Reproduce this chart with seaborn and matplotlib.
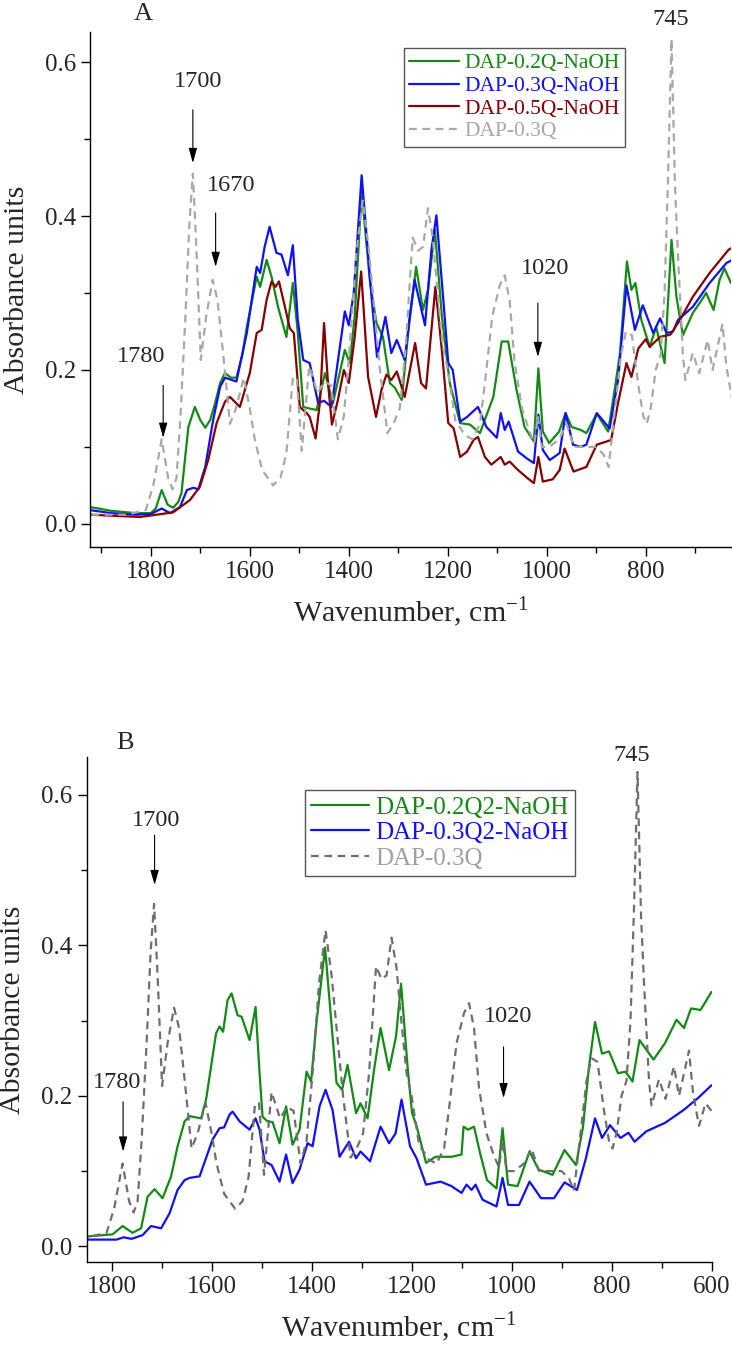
import numpy as np
import pandas as pd
import matplotlib
matplotlib.use('Agg')
import matplotlib.pyplot as plt
import seaborn as sns
from matplotlib.ticker import MultipleLocator, FormatStrFormatter

# ---- data (wavenumber, absorbance) ----
# reference sample DAP-0.3Q (same spectrum in both panels)
ref_wn = [1922, 1850, 1810, 1795, 1778, 1765, 1756, 1748, 1740, 1730, 1722, 1715, 1708, 1699,
          1688, 1675, 1665, 1654, 1640, 1628, 1612, 1600, 1590, 1575, 1553, 1538, 1526, 1513,
          1505, 1495, 1480, 1463, 1449, 1436, 1422, 1410, 1398, 1385, 1372, 1360, 1350, 1337,
          1322, 1310, 1297, 1285, 1271, 1260, 1250, 1240, 1230, 1222, 1210, 1200, 1185, 1165,
          1150, 1135, 1125, 1110, 1095, 1085, 1075, 1065, 1050, 1035, 1025, 1018, 1010, 995,
          975, 960, 945, 920, 900, 885, 875, 862, 850, 840, 828, 815, 805, 798, 790, 780, 770,
          762, 755, 748, 741, 735, 725, 720, 705, 692, 675, 665, 645, 637, 625, 612, 600]
ref_abs = [0.012, 0.012, 0.018, 0.050, 0.110, 0.060, 0.045, 0.060, 0.140, 0.270, 0.390, 0.455,
           0.360, 0.213, 0.270, 0.317, 0.290, 0.222, 0.130, 0.150, 0.190, 0.150, 0.110, 0.070,
           0.050, 0.060, 0.092, 0.190, 0.190, 0.095, 0.205, 0.170, 0.185, 0.180, 0.110, 0.140,
           0.230, 0.350, 0.420, 0.360, 0.290, 0.200, 0.118, 0.130, 0.150, 0.230, 0.372, 0.355,
           0.360, 0.410, 0.370, 0.310, 0.230, 0.200, 0.135, 0.115, 0.110, 0.130, 0.183, 0.270,
           0.310, 0.323, 0.290, 0.210, 0.150, 0.120, 0.105, 0.140, 0.100, 0.100, 0.110, 0.130,
           0.100, 0.100, 0.100, 0.090, 0.074, 0.150, 0.220, 0.250, 0.245, 0.180, 0.140, 0.130,
           0.150, 0.200, 0.220, 0.300, 0.450, 0.630, 0.440, 0.350, 0.220, 0.187, 0.222, 0.196,
           0.239, 0.200, 0.260, 0.204, 0.160, 0.190, 0.180]

# panel A
a02_wn = [1923, 1880, 1830, 1800, 1790, 1778, 1766, 1755, 1745, 1738, 1730, 1724, 1711, 1700,
          1690, 1680, 1670, 1660, 1650, 1638, 1627, 1615, 1606, 1586, 1579, 1566, 1556, 1543,
          1526, 1513, 1503, 1492, 1480, 1465, 1448, 1432, 1408, 1398, 1388, 1374, 1357, 1344,
          1331, 1317, 1307, 1293, 1280, 1264, 1250, 1240, 1226, 1212, 1196, 1175, 1155, 1135,
          1108, 1091, 1078, 1061, 1045, 1026, 1017, 1008, 995, 975, 962, 950, 931, 920, 899,
          876, 862, 852, 838, 829, 821, 809, 792, 779, 762, 748, 738, 725, 705, 691, 678, 663,
          651, 641, 628]
a02_abs = [0.022, 0.017, 0.014, 0.014, 0.020, 0.044, 0.025, 0.021, 0.028, 0.040, 0.090, 0.126,
           0.152, 0.135, 0.125, 0.135, 0.157, 0.183, 0.196, 0.190, 0.190, 0.220, 0.256, 0.321,
           0.308, 0.343, 0.321, 0.282, 0.243, 0.313, 0.248, 0.152, 0.150, 0.148, 0.196, 0.157,
           0.226, 0.209, 0.270, 0.432, 0.313, 0.261, 0.243, 0.183, 0.177, 0.161, 0.248, 0.334,
           0.278, 0.304, 0.382, 0.270, 0.183, 0.131, 0.129, 0.118, 0.165, 0.237, 0.237, 0.174,
           0.126, 0.107, 0.202, 0.120, 0.105, 0.120, 0.144, 0.126, 0.122, 0.118, 0.143, 0.120,
           0.178, 0.222, 0.341, 0.304, 0.313, 0.265, 0.230, 0.256, 0.209, 0.369, 0.295, 0.245,
           0.274, 0.287, 0.300, 0.278, 0.317, 0.332, 0.313]

a03_wn = [1923, 1880, 1830, 1800, 1778, 1761, 1741, 1727, 1714, 1704, 1690, 1674, 1660, 1650,
          1627, 1606, 1586, 1579, 1570, 1560, 1546, 1536, 1523, 1513, 1503, 1492, 1479, 1462,
          1450, 1435, 1408, 1400, 1390, 1374, 1354, 1343, 1326, 1314, 1303, 1287, 1277, 1267,
          1246, 1233, 1223, 1209, 1199, 1190, 1175, 1161, 1139, 1122, 1101, 1093, 1085, 1077,
          1058, 1040, 1026, 1017, 1008, 994, 974, 962, 947, 931, 920, 899, 873, 856, 839, 822,
          806, 785, 771, 758, 745, 735, 705, 671, 637, 628]
a03_abs = [0.018, 0.014, 0.012, 0.013, 0.020, 0.014, 0.022, 0.044, 0.047, 0.045, 0.074, 0.135,
           0.178, 0.190, 0.185, 0.248, 0.334, 0.326, 0.360, 0.386, 0.352, 0.350, 0.323, 0.362,
           0.265, 0.213, 0.209, 0.157, 0.160, 0.152, 0.276, 0.258, 0.300, 0.453, 0.295, 0.217,
           0.269, 0.222, 0.239, 0.213, 0.269, 0.317, 0.258, 0.356, 0.401, 0.291, 0.209, 0.200,
           0.133, 0.139, 0.152, 0.126, 0.112, 0.144, 0.122, 0.133, 0.094, 0.085, 0.079, 0.142,
           0.096, 0.083, 0.092, 0.144, 0.103, 0.100, 0.103, 0.144, 0.124, 0.187, 0.310, 0.252,
           0.284, 0.248, 0.267, 0.248, 0.250, 0.265, 0.282, 0.313, 0.339, 0.342]

a05_wn = [1923, 1822, 1755, 1721, 1701, 1684, 1667, 1650, 1640, 1620, 1600, 1586, 1576, 1566,
          1556, 1548, 1541, 1529, 1519, 1511, 1499, 1485, 1479, 1467, 1458, 1450, 1442, 1434,
          1422, 1410, 1400, 1388, 1375, 1361, 1345, 1334, 1324, 1314, 1303, 1287, 1266, 1254,
          1244, 1225, 1212, 1199, 1188, 1175, 1161, 1148, 1139, 1125, 1112, 1093, 1085, 1075,
          1058, 1040, 1026, 1017, 1008, 988, 974, 964, 946, 920, 899, 870, 856, 839, 829, 815,
          800, 792, 771, 750, 731, 705, 671, 633, 628]
a05_abs = [0.012, 0.009, 0.015, 0.031, 0.048, 0.083, 0.131, 0.159, 0.165, 0.152, 0.196, 0.248,
           0.252, 0.291, 0.315, 0.308, 0.315, 0.282, 0.254, 0.248, 0.152, 0.144, 0.139, 0.111,
           0.160, 0.261, 0.183, 0.129, 0.161, 0.200, 0.183, 0.243, 0.328, 0.191, 0.139, 0.174,
           0.194, 0.187, 0.198, 0.165, 0.235, 0.183, 0.176, 0.308, 0.226, 0.131, 0.124, 0.087,
           0.094, 0.109, 0.113, 0.087, 0.077, 0.087, 0.077, 0.081, 0.070, 0.060, 0.053, 0.087,
           0.055, 0.058, 0.070, 0.098, 0.068, 0.074, 0.103, 0.109, 0.157, 0.209, 0.191, 0.228,
           0.240, 0.230, 0.243, 0.246, 0.265, 0.295, 0.326, 0.356, 0.358]

# panel B
b02_wn = [1851, 1798, 1778, 1758, 1741, 1728, 1714, 1698, 1681, 1668, 1654, 1644, 1621, 1611,
          1591, 1584, 1577, 1568, 1560, 1548, 1540, 1524, 1512, 1504, 1498, 1488, 1478, 1464,
          1451, 1438, 1424, 1410, 1401, 1391, 1373, 1362, 1350, 1339, 1328, 1311, 1302, 1288,
          1274, 1262, 1245, 1231, 1221, 1208, 1199, 1190, 1171, 1152, 1120, 1100, 1096, 1087,
          1075, 1063, 1049, 1030, 1018, 1007, 988, 964, 946, 918, 894, 871, 857, 845, 833, 819,
          805, 787, 772, 758, 744, 730, 716, 693, 670, 655, 641, 622, 600]
b02_abs = [0.013, 0.016, 0.027, 0.018, 0.024, 0.066, 0.076, 0.064, 0.093, 0.133, 0.166, 0.173,
           0.170, 0.195, 0.283, 0.292, 0.285, 0.327, 0.336, 0.307, 0.305, 0.274, 0.318, 0.230,
           0.172, 0.166, 0.165, 0.137, 0.186, 0.135, 0.155, 0.232, 0.219, 0.292, 0.397, 0.310,
           0.217, 0.208, 0.241, 0.177, 0.190, 0.170, 0.239, 0.290, 0.234, 0.279, 0.349, 0.239,
           0.177, 0.160, 0.111, 0.119, 0.119, 0.122, 0.159, 0.155, 0.159, 0.124, 0.088, 0.077,
           0.157, 0.082, 0.080, 0.126, 0.102, 0.095, 0.128, 0.108, 0.159, 0.239, 0.298, 0.256,
           0.259, 0.230, 0.232, 0.219, 0.274, 0.261, 0.248, 0.270, 0.301, 0.290, 0.316, 0.314,
           0.338]

b03_wn = [1851, 1790, 1776, 1760, 1738, 1721, 1701, 1684, 1668, 1654, 1644, 1624, 1598, 1584,
          1575, 1564, 1558, 1544, 1524, 1512, 1504, 1494, 1480, 1464, 1451, 1438, 1424, 1408,
          1398, 1384, 1372, 1358, 1344, 1325, 1311, 1302, 1283, 1262, 1245, 1232, 1220, 1203,
          1190, 1171, 1142, 1120, 1100, 1090, 1080, 1072, 1058, 1030, 1018, 1007, 985, 964,
          941, 915, 894, 869, 852, 833, 819, 803, 782, 766, 754, 730, 693, 656, 627, 600]
b03_abs = [0.009, 0.009, 0.012, 0.010, 0.015, 0.027, 0.024, 0.044, 0.075, 0.088, 0.091, 0.093,
           0.142, 0.157, 0.158, 0.175, 0.179, 0.166, 0.155, 0.170, 0.155, 0.113, 0.108, 0.086,
           0.122, 0.084, 0.102, 0.137, 0.133, 0.186, 0.208, 0.181, 0.119, 0.139, 0.117, 0.126,
           0.113, 0.159, 0.137, 0.150, 0.195, 0.133, 0.117, 0.082, 0.086, 0.080, 0.071, 0.082,
           0.075, 0.082, 0.062, 0.053, 0.091, 0.055, 0.055, 0.086, 0.064, 0.064, 0.085, 0.075,
           0.115, 0.170, 0.144, 0.161, 0.144, 0.151, 0.139, 0.153, 0.164, 0.181, 0.197, 0.214]

GREEN, BLUE, WINE = '#138a13', '#1010ff', '#870000'
GRAY_A, GRAY_B = '#a8a8a8', '#6e6e6e'

sns.set_style('ticks')
plt.rcParams['font.family'] = ['Liberation Serif', 'DejaVu Serif']
plt.rcParams['mathtext.fontset'] = 'custom'
plt.rcParams['mathtext.rm'] = 'Liberation Serif'
plt.rcParams['axes.linewidth'] = 1.0

fig = plt.figure(figsize=(7.32, 13.52), dpi=100)
axA = fig.add_axes([0.1235, 0.5954, 0.875, 0.3809])
axB = fig.add_axes([0.1183, 0.0666, 0.8537, 0.3735])


def draw(ax, wn, ab, label, color, dashed=False):
    d = pd.DataFrame({'wn': wn, 'abs': ab})
    sns.lineplot(data=d, x='wn', y='abs', ax=ax, color=color, lw=1.6, label=label,
                 estimator=None, linestyle=(0, (3.5, 2.5)) if dashed else '-')


def style(ax, xlim, ylim):
    ax.set_xlim(*xlim)
    ax.set_ylim(*ylim)
    ax.xaxis.set_major_locator(MultipleLocator(200))
    ax.xaxis.set_minor_locator(MultipleLocator(100))
    ax.yaxis.set_major_locator(MultipleLocator(0.2))
    ax.yaxis.set_minor_locator(MultipleLocator(0.1))
    ax.yaxis.set_major_formatter(FormatStrFormatter('%.1f'))
    ax.tick_params(which='major', direction='out', length=6.5, width=1, labelsize=18, color='black')
    ax.tick_params(which='minor', direction='out', length=4, width=1, color='black')
    sns.despine(ax=ax)
    for s in ['left', 'bottom']:
        ax.spines[s].set_color('black')
    ax.set_xlabel('Wavenumber, cm$^{\\mathregular{-1}}$', fontsize=21.5, labelpad=8)
    ax.set_ylabel('Absorbance units', fontsize=21.5, labelpad=11)


def mark(ax, text, xt, yt, xa, y0, y1, fs=17.5):
    ax.annotate('', xy=(xa, y1), xytext=(xa, y0), annotation_clip=False,
                arrowprops=dict(arrowstyle='-|>,head_length=0.6,head_width=0.17',
                                color='black', lw=0.8, mutation_scale=15,
                                shrinkA=0, shrinkB=0))
    ax.text(xt, yt, text, ha='center', va='center', fontsize=fs, clip_on=False)


def legend(ax, anchor, fs, text_colors):
    lg = ax.legend(loc='upper left', bbox_to_anchor=anchor, bbox_transform=fig.transFigure,
                   fontsize=fs, frameon=True, fancybox=False, edgecolor='#555555',
                   framealpha=1, borderaxespad=0, borderpad=0.25, handlelength=2.3,
                   handletextpad=0.25, labelspacing=0.12)
    lg.get_frame().set_linewidth(1.0)
    for t, c in zip(lg.get_texts(), text_colors):
        t.set_color(c)


# ---- panel A ----
draw(axA, a02_wn, a02_abs, 'DAP-0.2Q-NaOH', GREEN)
draw(axA, a03_wn, a03_abs, 'DAP-0.3Q-NaOH', BLUE)
draw(axA, a05_wn, a05_abs, 'DAP-0.5Q-NaOH', WINE)
draw(axA, ref_wn, ref_abs, 'DAP-0.3Q', GRAY_A, dashed=True)
style(axA, (1922, 628), (-0.03, 0.639))
legend(axA, (0.552, 0.9645), 15.5, [GREEN, BLUE, WINE, '#a8a8a8'])
mark(axA, '1700', 1705, 0.575, 1715, 0.538, 0.469)
mark(axA, '1670', 1638, 0.44, 1669, 0.404, 0.334)
mark(axA, '1020', 1004, 0.332, 1018, 0.287, 0.217)
mark(axA, '1780', 1820, 0.218, 1775, 0.180, 0.112)
axA.text(749, 0.655, '745', ha='center', va='center', fontsize=17.5, clip_on=False)
axA.text(1816, 0.662, 'A', ha='center', va='center', fontsize=19, clip_on=False)

# ---- panel B ----
draw(axB, b02_wn, b02_abs, 'DAP-0.2Q2-NaOH', GREEN)
draw(axB, b03_wn, b03_abs, 'DAP-0.3Q2-NaOH', BLUE)
draw(axB, ref_wn, ref_abs, 'DAP-0.3Q', GRAY_B, dashed=True)
style(axB, (1850, 600), (-0.0207, 0.650))
legend(axB, (0.4167, 0.4157), 18, [GREEN, BLUE, '#a0a0a0'])
mark(axB, '1700', 1711, 0.566, 1714, 0.546, 0.48)
mark(axB, '1020', 1007, 0.305, 1016, 0.265, 0.197)
mark(axB, '1780', 1789, 0.218, 1777, 0.192, 0.126)
axB.text(759, 0.652, '745', ha='center', va='center', fontsize=17.5, clip_on=False)
axB.text(1774, 0.669, 'B', ha='center', va='center', fontsize=19, clip_on=False)

fig.savefig('out.png', dpi=100)
